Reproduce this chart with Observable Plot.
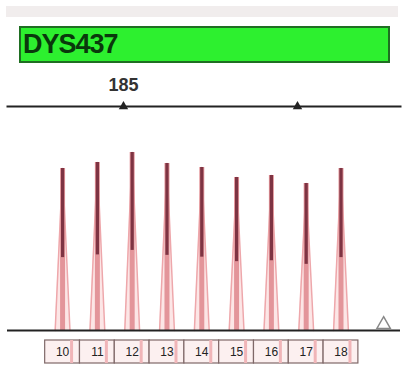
<!DOCTYPE html>
<html>
<head>
<meta charset="utf-8">
<script src="https://cdn.jsdelivr.net/npm/d3@7"></script>
<script src="https://cdn.jsdelivr.net/npm/@observablehq/plot@0.6"></script>
<style>
  html, body { margin: 0; padding: 0; background: #fff; }
  #wrap { position: relative; width: 402px; height: 384px; overflow: hidden; font-family: "Liberation Sans", Arial, sans-serif; }
  #strip { position: absolute; left: 6px; top: 6px; width: 392px; height: 11px; background: #f1eded; }
  #bar { position: absolute; left: 19px; top: 26px; width: 367px; height: 33px; background: #2df02f; border: 2px solid #1f6e22; box-sizing: content-box; }
  #bar span { position: absolute; left: 2px; top: 1px; font-size: 27px; font-weight: bold; color: #0a380c; letter-spacing: -1px; line-height: 31px; }
  #chart { position: absolute; left: 0; top: 70px; }
</style>
</head>
<body>
<div id="wrap">
  <div id="strip"></div>
  <div id="bar"><span id="locus"></span></div>
  <div id="chart"></div>
</div>
<script>
const locus = "DYS437";
const alleles = ["10", "11", "12", "13", "14", "15", "16", "17", "18"];
const sizes = [178, 182, 186, 190, 194, 198, 202, 206, 210];
const heights = [1620, 1680, 1780, 1670, 1630, 1530, 1550, 1470, 1620];
const scaleTicks = [185, 205];
const scaleTickLabels = ["185", ""];
const markers = [214.9];

document.getElementById("locus").textContent = locus;

const peaks = alleles.map((a, i) => ({allele: a, size: sizes[i], height: heights[i]}));
const outline = peaks.flatMap(p => [
  {id: p.allele, x: p.size - 0.85, y: 0},
  {id: p.allele, x: p.size, y: p.height},
  {id: p.allele, x: p.size + 0.85, y: 0}
]);

const chart = Plot.plot({
  width: 402,
  height: 314,
  marginTop: 36,
  marginBottom: 54,
  marginLeft: 7,
  marginRight: 2,
  style: {fontFamily: "Liberation Sans, Arial, sans-serif", background: "transparent"},
  x: {domain: [171.67, 216.84]},
  y: {domain: [0, 2240], axis: null},
  marks: [
    Plot.areaY(outline, {x: "x", y: "y", z: "id", fill: "#fce6e6", curve: "linear"}),
    Plot.line(outline, {x: "x", y: "y", z: "id", stroke: "#eea7ab", strokeWidth: 1.5}),
    Plot.ruleX(peaks, {x: "size", y1: 0, y2: "height", stroke: "#e3959a", strokeWidth: 5}),
    Plot.ruleX(peaks, {x: "size", y1: d => d.height * 0.45, y2: "height", stroke: "#7e3443", strokeWidth: 3.2}),
    Plot.rect(peaks, {x1: d => d.size - 2, x2: d => d.size + 2, y1: -100, y2: -330, fill: "#fcf0f0", stroke: "#7f6868", strokeWidth: 1.2}),
    Plot.ruleX(peaks, {x: "size", y1: -100, y2: -330, stroke: "#f0b5b8", strokeWidth: 3, dx: 9}),
    Plot.text(peaks, {x: "size", y: -215, text: "allele", fontSize: 12, fill: "#222"}),
    Plot.ruleY([0], {stroke: "#222", strokeWidth: 2}),
    Plot.dot(markers, {x: d => d, y: 0, dy: -6, symbol: "triangle", r: 5, stroke: "#888", fill: "none"}),
    Plot.frame({anchor: "top", stroke: "#222", strokeWidth: 2}),
    Plot.dot(scaleTicks, {x: d => d, frameAnchor: "top", symbol: "triangle", r: 3.5, fill: "#222"}),
    Plot.axisX({anchor: "top", ticks: scaleTicks, tickFormat: d => scaleTickLabels[scaleTicks.indexOf(d)], tickSize: 0, tickPadding: 16, fontSize: 18, fontWeight: "bold", fill: "#333", label: null})
  ]
});
document.getElementById("chart").appendChild(chart);
</script>
</body>
</html>
